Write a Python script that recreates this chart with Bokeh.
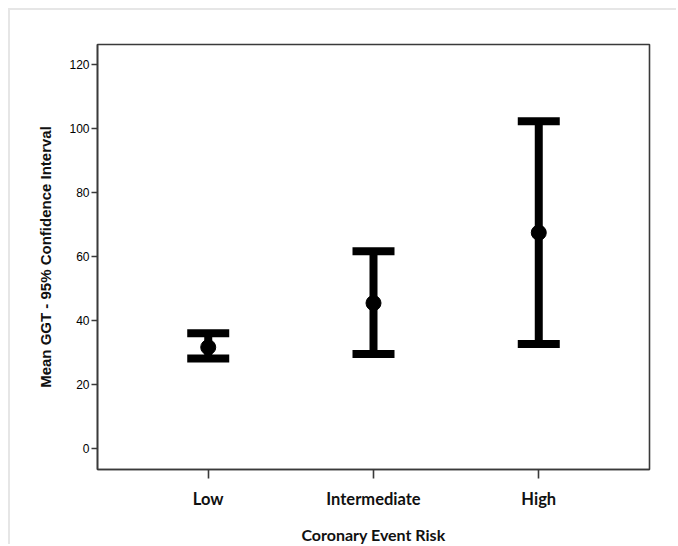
from bokeh.plotting import figure
from bokeh.models import ColumnDataSource, Whisker, TeeHead, Range1d, FixedTicker
from bokeh.embed import file_html
from bokeh.resources import INLINE

categories = ["Low", "Intermediate", "High"]
means = [31.6, 45.4, 67.4]
lower = [28.1, 29.5, 32.6]
upper = [36.0, 61.6, 102.2]
y_ticks = [0, 20, 40, 60, 80, 100, 120]

xs = list(range(len(categories)))
src = ColumnDataSource(dict(x=xs, mean=means, lower=lower, upper=upper))

p = figure(width=668, height=536, output_backend="svg", toolbar_location=None,
           x_range=Range1d(-0.67, 2.67), y_range=Range1d(-6.6, 126.2),
           min_border_left=87, min_border_right=29, min_border_top=34, min_border_bottom=75)
p.background_fill_color = "white"
p.border_fill_color = "white"
p.outline_line_color = "#3a3a3a"
p.outline_line_width = 1.6
p.xgrid.visible = False
p.ygrid.visible = False
p.styles = {"margin-top": "8px", "margin-left": "8px",
            "border-top": "2px solid #e6e6e6", "border-left": "2px solid #e6e6e6"}

w = Whisker(source=src, base="x", lower="lower", upper="upper", dimension="height",
            line_color="black", line_width=8,
            upper_head=TeeHead(size=42, line_width=8, line_color="black"),
            lower_head=TeeHead(size=42, line_width=8, line_color="black"))
p.add_layout(w)
p.scatter("x", "mean", source=src, size=15, color="black", marker="circle")

p.xaxis.ticker = FixedTicker(ticks=xs)
p.xaxis.major_label_overrides = {i: c for i, c in zip(xs, categories)}
p.xaxis.minor_tick_line_color = None
p.xaxis.major_tick_out = 9
p.xaxis.major_tick_in = 0
p.xaxis.major_tick_line_width = 1.6
p.xaxis.major_tick_line_color = "#3a3a3a"
p.xaxis.axis_line_color = "#3a3a3a"
p.xaxis.axis_line_width = 1.6
p.xaxis.major_label_text_font = "Lato"
p.xaxis.major_label_text_font_style = "bold"
p.xaxis.major_label_text_font_size = "16.5px"
p.xaxis.major_label_text_color = "#111111"
p.xaxis.major_label_standoff = 10
p.xaxis.axis_label = "Coronary Event Risk"
p.xaxis.axis_label_text_font = "Lato"
p.xaxis.axis_label_text_font_style = "bold"
p.xaxis.axis_label_text_font_size = "16px"
p.xaxis.axis_label_text_color = "#111111"
p.xaxis.axis_label_standoff = 13

p.yaxis.ticker = FixedTicker(ticks=y_ticks)
p.yaxis.minor_tick_line_color = None
p.yaxis.major_tick_out = 6
p.yaxis.major_tick_in = 0
p.yaxis.major_tick_line_width = 1.3
p.yaxis.major_tick_line_color = "#3a3a3a"
p.yaxis.axis_line_color = "#3a3a3a"
p.yaxis.axis_line_width = 1.6
p.yaxis.major_label_text_font = "Liberation Sans"
p.yaxis.major_label_text_font_size = "12px"
p.yaxis.major_label_text_color = "#000000"
p.yaxis.major_label_standoff = 2
p.yaxis.axis_label = "Mean GGT - 95% Confidence Interval"
p.yaxis.axis_label_text_font = "Liberation Sans"
p.yaxis.axis_label_text_font_style = "bold"
p.yaxis.axis_label_text_font_size = "15px"
p.yaxis.axis_label_text_color = "#111111"
p.yaxis.axis_label_standoff = 12

open("out.html", "w").write(file_html(p, INLINE))
